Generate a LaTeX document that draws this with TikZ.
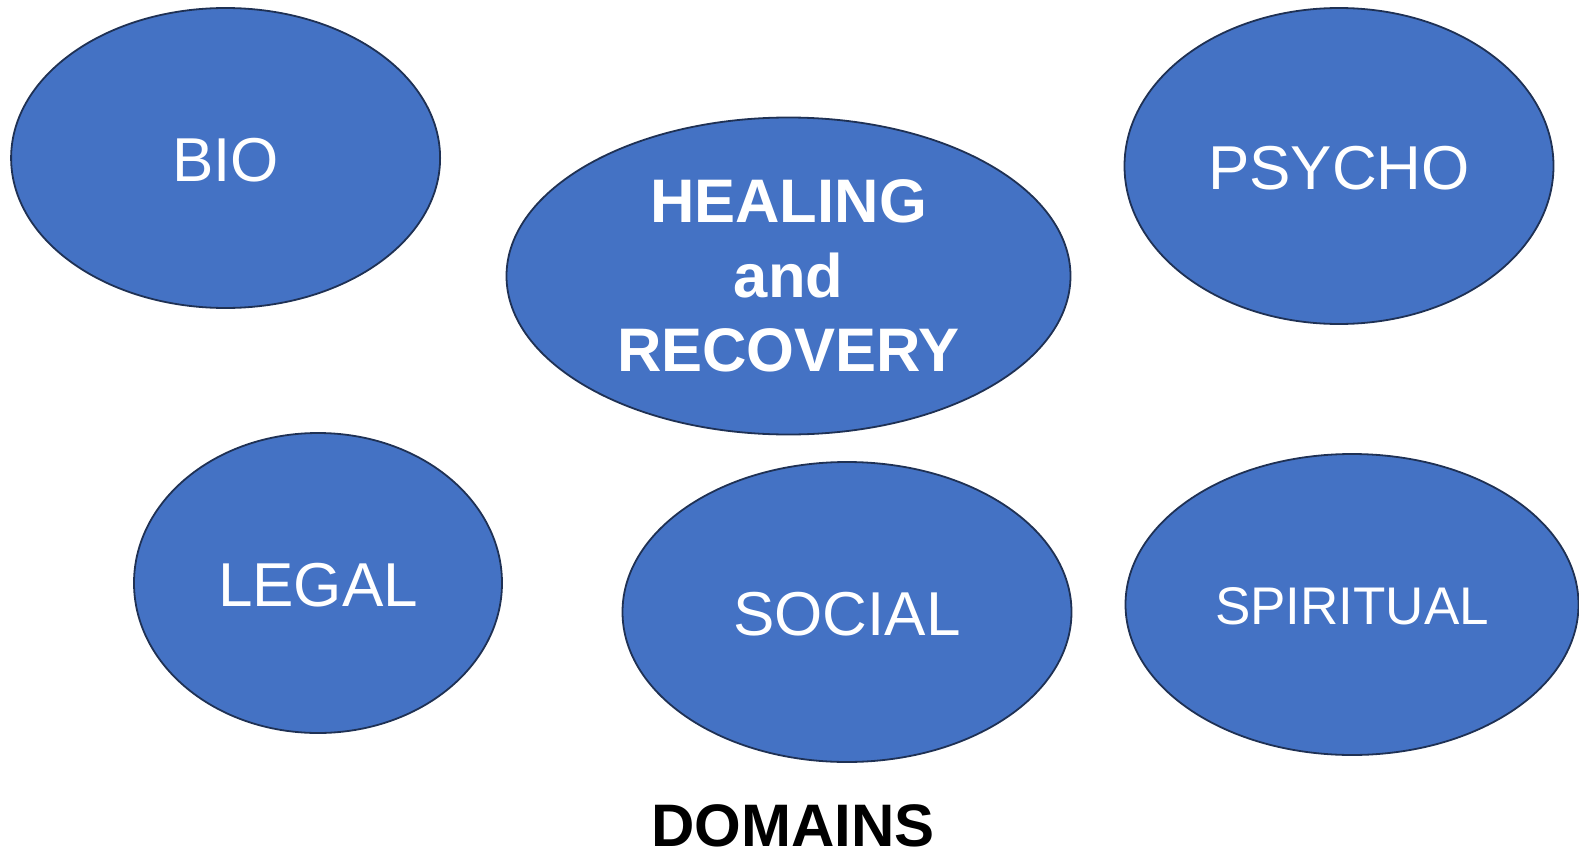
\documentclass[tikz,border=0pt]{standalone}
\usepackage{fontspec}
\setmainfont{Liberation Sans}
\usetikzlibrary{shapes.geometric}
\definecolor{domblue}{HTML}{4472C4}
\definecolor{domline}{HTML}{1F3154}

\begin{document}
\begin{tikzpicture}[x=1pt,y=-1pt,
  blob/.style={ellipse,draw=domline,line width=1.8pt,fill=domblue,text=white,inner sep=0pt},
  domainbox/.style={blob,font=\fontsize{62}{74}\selectfont,text height=47pt,text depth=0pt},
  healbox/.style={blob,font=\bfseries\fontsize{61.5}{74.5}\selectfont,align=center}]
\useasboundingbox (0,0) rectangle (1579,851);
\node [domainbox,minimum width=429pt,minimum height=300pt] (bio) at (225.6,158) {BIO};
\node [healbox,minimum width=564pt,minimum height=317pt] (heal) at (788.5,276) {HEALING\\and\\RECOVERY};
\node [domainbox,minimum width=429pt,minimum height=316pt] (psycho) at (1339,166) {PSYCHO};
\node [domainbox,minimum width=368pt,minimum height=300pt] (legal) at (318,583) {LEGAL};
\node [domainbox,minimum width=449pt,minimum height=300pt] (social) at (847,612) {SOCIAL};
\node [domainbox,minimum width=453pt,minimum height=301pt,font=\fontsize{53}{64}\selectfont,text height=40pt]
  (spirit) at (1352,604.5) {SPIRITUAL};
\node [font=\bfseries\fontsize{60}{72}\selectfont,inner sep=0pt,anchor=base] (dom) at (793,846) {DOMAINS};
\end{tikzpicture}
\end{document}
